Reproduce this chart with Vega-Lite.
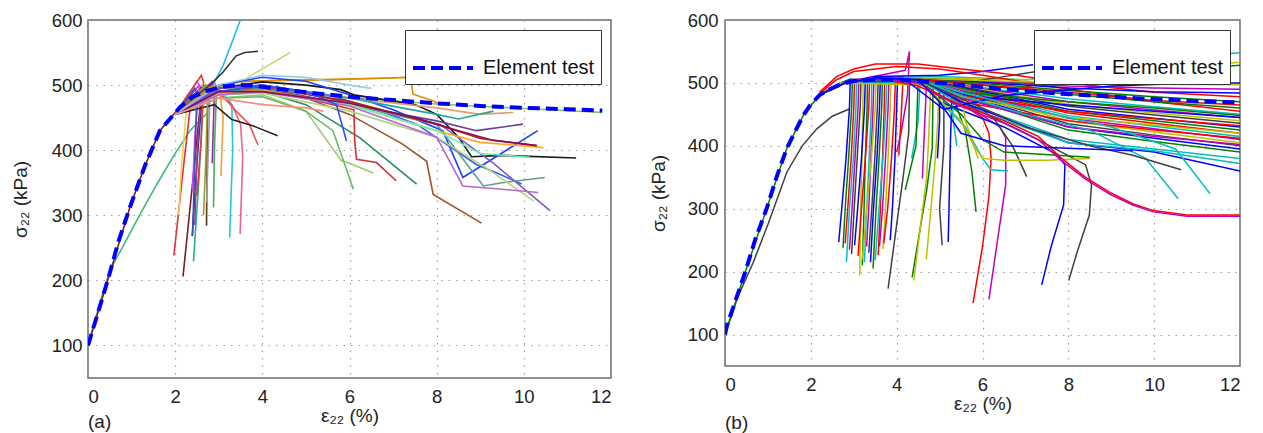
{
"$schema": "https://vega.github.io/schema/vega-lite/v6.json",
"background": "white",
"padding": {"left": 10, "top": 10, "right": 5, "bottom": 0},
"bounds": "flush",
"spacing": 114,
"config": {
  "view": {"stroke": "#6b6b6b", "strokeWidth": 1.5},
  "font": "Liberation Sans",
  "axis": {"domain": false, "ticks": false, "grid": true, "gridColor": "#a0a0a0", "gridDash": [1.5, 6], "gridWidth": 1.2,
    "labelFont": "Liberation Sans", "labelFontSize": 18.5, "labelColor": "#222", "titleFont": "Liberation Sans", "titleFontSize": 19, "titleFontWeight": "normal", "titleColor": "#222"},
  "legend": {"orient": "top-right", "offset": 10, "strokeColor": "#333", "fillColor": "white", "padding": 6, "symbolType": "stroke", "symbolDash": [12, 6], "symbolStrokeWidth": 4, "symbolSize": 3600, "labelFont": "Liberation Sans", "labelFontSize": 20, "labelColor": "#111", "labelOffset": 8, "title": null, "cornerRadius": 0}
},
"datasets": {
"EA": [{"x":0,"y":100},{"x":0.25,"y":155},{"x":0.47,"y":204},{"x":0.7,"y":260},{"x":0.96,"y":312},{"x":1.3,"y":375},{"x":1.65,"y":430},{"x":2.11,"y":466},{"x":2.4,"y":482},{"x":2.72,"y":491},{"x":3.1,"y":498},{"x":3.5,"y":500},{"x":3.8,"y":499},{"x":4.4,"y":494},{"x":4.86,"y":490},{"x":6,"y":482},{"x":7,"y":477},{"x":8,"y":472},{"x":9,"y":468},{"x":10,"y":465},{"x":11,"y":463},{"x":11.8,"y":461}],
"EB": [{"x":0,"y":100},{"x":0.04,"y":113},{"x":0.25,"y":155},{"x":0.47,"y":199},{"x":0.7,"y":250},{"x":0.97,"y":300},{"x":1.2,"y":350},{"x":1.44,"y":396},{"x":1.65,"y":425},{"x":1.83,"y":449},{"x":2.0,"y":466},{"x":2.21,"y":481},{"x":2.5,"y":492},{"x":2.76,"y":499},{"x":3.0,"y":503},{"x":3.5,"y":505},{"x":4.0,"y":505},{"x":4.5,"y":503},{"x":5.0,"y":500},{"x":5.48,"y":497},{"x":6.5,"y":490},{"x":7.81,"y":483},{"x":8.8,"y":479},{"x":9.75,"y":475},{"x":11,"y":471},{"x":12,"y":469}],
"A": [
{"i":"a01","x":0,"y":100},{"i":"a01","x":0.25,"y":160},{"i":"a01","x":0.5,"y":215},{"i":"a01","x":0.8,"y":252},{"i":"a01","x":1.2,"y":302},{"i":"a01","x":1.6,"y":350},{"i":"a01","x":2.0,"y":395},{"i":"a01","x":2.34,"y":430},{"i":"a01","x":2.75,"y":458},
{"i":"a02","x":2,"y":455},{"i":"a02","x":2.3,"y":475},{"i":"a02","x":2.35,"y":468},{"i":"a02","x":2.2,"y":380},{"i":"a02","x":1.97,"y":238},
{"i":"a03","x":0,"y":100},{"i":"a03","x":0.47,"y":204},{"i":"a03","x":0.96,"y":312},{"i":"a03","x":1.3,"y":375},{"i":"a03","x":1.65,"y":430},{"i":"a03","x":2,"y":458},{"i":"a03","x":2.55,"y":492},{"i":"a03","x":2.6,"y":486},{"i":"a03","x":2.4,"y":350},{"i":"a03","x":2.18,"y":206},
{"i":"a04","x":2,"y":455},{"i":"a04","x":2.3,"y":488},{"i":"a04","x":2.28,"y":478},{"i":"a04","x":2.15,"y":380},{"i":"a04","x":2.08,"y":300},
{"i":"a05","x":2,"y":455},{"i":"a05","x":2.6,"y":495},{"i":"a05","x":2.65,"y":488},{"i":"a05","x":2.55,"y":360},{"i":"a05","x":2.42,"y":229},
{"i":"a06","x":2,"y":455},{"i":"a06","x":2.6,"y":496},{"i":"a06","x":2.62,"y":488},{"i":"a06","x":2.5,"y":380},{"i":"a06","x":2.39,"y":268},
{"i":"a07","x":2,"y":455},{"i":"a07","x":2.55,"y":500},{"i":"a07","x":2.6,"y":494},{"i":"a07","x":2.5,"y":390},{"i":"a07","x":2.45,"y":285},
{"i":"a08","x":2,"y":455},{"i":"a08","x":2.7,"y":500},{"i":"a08","x":2.75,"y":494},{"i":"a08","x":2.73,"y":380},{"i":"a08","x":2.72,"y":284},
{"i":"a09","x":2,"y":455},{"i":"a09","x":2.9,"y":505},{"i":"a09","x":2.95,"y":495},{"i":"a09","x":2.9,"y":400},{"i":"a09","x":2.88,"y":312},
{"i":"a10","x":2,"y":455},{"i":"a10","x":2.75,"y":498},{"i":"a10","x":2.8,"y":490},{"i":"a10","x":2.76,"y":400},{"i":"a10","x":2.72,"y":320},
{"i":"a11","x":2,"y":455},{"i":"a11","x":2.8,"y":500},{"i":"a11","x":3.2,"y":480},{"i":"a11","x":3.3,"y":470},{"i":"a11","x":3.32,"y":400},{"i":"a11","x":3.25,"y":266},
{"i":"a12","x":2,"y":455},{"i":"a12","x":2.8,"y":495},{"i":"a12","x":3.3,"y":470},{"i":"a12","x":3.5,"y":440},{"i":"a12","x":3.55,"y":390},{"i":"a12","x":3.49,"y":271},
{"i":"a13","x":2,"y":455},{"i":"a13","x":2.85,"y":505},{"i":"a13","x":2.9,"y":490},{"i":"a13","x":2.85,"y":380},
{"i":"a14","x":2,"y":455},{"i":"a14","x":2.5,"y":506},{"i":"a14","x":2.55,"y":500},{"i":"a14","x":2.45,"y":420},{"i":"a14","x":2.4,"y":340},
{"i":"a15","x":2,"y":455},{"i":"a15","x":3.0,"y":500},{"i":"a15","x":3.1,"y":450},{"i":"a15","x":3.05,"y":360},
{"i":"a16","x":2,"y":455},{"i":"a16","x":3.0,"y":490},{"i":"a16","x":3.4,"y":460},{"i":"a16","x":3.7,"y":440},{"i":"a16","x":3.9,"y":408},
{"i":"a17","x":2,"y":455},{"i":"a17","x":2.9,"y":470},{"i":"a17","x":3.3,"y":447},{"i":"a17","x":3.8,"y":437},{"i":"a17","x":4.35,"y":422},
{"i":"a18","x":2,"y":455},{"i":"a18","x":2.6,"y":515},{"i":"a18","x":2.65,"y":505},{"i":"a18","x":2.6,"y":420},{"i":"a18","x":2.5,"y":330},
{"i":"a19","x":2,"y":455},{"i":"a19","x":2.7,"y":500},{"i":"a19","x":2.75,"y":494},{"i":"a19","x":2.7,"y":380},{"i":"a19","x":2.65,"y":300},
{"i":"a20","x":2,"y":455},{"i":"a20","x":2.45,"y":495},{"i":"a20","x":2.5,"y":488},{"i":"a20","x":2.45,"y":380},{"i":"a20","x":2.4,"y":270},
{"i":"a21","x":2,"y":455},{"i":"a21","x":2.7,"y":495},{"i":"a21","x":2.9,"y":505},{"i":"a21","x":3.1,"y":530},{"i":"a21","x":3.3,"y":565},{"i":"a21","x":3.55,"y":610},
{"i":"a22","x":2,"y":455},{"i":"a22","x":2.8,"y":500},{"i":"a22","x":3.1,"y":520},{"i":"a22","x":3.4,"y":545},{"i":"a22","x":3.6,"y":550},{"i":"a22","x":3.9,"y":552},
{"i":"a23","x":2,"y":455},{"i":"a23","x":3.0,"y":495},{"i":"a23","x":3.5,"y":505},{"i":"a23","x":4.0,"y":525},{"i":"a23","x":4.64,"y":550},
{"i":"a24","x":2,"y":455},{"i":"a24","x":2.8,"y":495},{"i":"a24","x":3.5,"y":505},{"i":"a24","x":4.5,"y":508},{"i":"a24","x":5.6,"y":509},{"i":"a24","x":7,"y":511},{"i":"a24","x":8.3,"y":515},{"i":"a24","x":9.0,"y":520},{"i":"a24","x":9.52,"y":528},{"i":"a24","x":9.84,"y":514},
{"i":"a25","x":2,"y":455},{"i":"a25","x":2.8,"y":497},{"i":"a25","x":3.5,"y":506},{"i":"a25","x":4.5,"y":507},{"i":"a25","x":5.5,"y":508},{"i":"a25","x":7.39,"y":512},{"i":"a25","x":7.46,"y":486},{"i":"a25","x":7.91,"y":476},{"i":"a25","x":8.1,"y":470},
{"i":"a26","x":2,"y":455},{"i":"a26","x":3,"y":496},{"i":"a26","x":4,"y":494},{"i":"a26","x":6,"y":481},{"i":"a26","x":8,"y":471},{"i":"a26","x":10,"y":464},{"i":"a26","x":11.8,"y":458},
{"i":"a27","x":2,"y":455},{"i":"a27","x":3,"y":495},{"i":"a27","x":4,"y":505},{"i":"a27","x":5,"y":500},{"i":"a27","x":5.8,"y":493},{"i":"a27","x":6.1,"y":485},{"i":"a27","x":7.5,"y":470},{"i":"a27","x":8.0,"y":455},{"i":"a27","x":8.5,"y":420},{"i":"a27","x":8.8,"y":390},{"i":"a27","x":9.5,"y":392},{"i":"a27","x":11.2,"y":388},
{"i":"a28","x":2,"y":455},{"i":"a28","x":3,"y":500},{"i":"a28","x":4,"y":512},{"i":"a28","x":5,"y":506},{"i":"a28","x":6,"y":485},{"i":"a28","x":7,"y":462},{"i":"a28","x":7.5,"y":448},{"i":"a28","x":8.14,"y":430},{"i":"a28","x":8.37,"y":394},{"i":"a28","x":8.6,"y":358},{"i":"a28","x":10.32,"y":430},
{"i":"a29","x":2,"y":455},{"i":"a29","x":3,"y":495},{"i":"a29","x":4,"y":500},{"i":"a29","x":5.5,"y":485},{"i":"a29","x":6.5,"y":465},{"i":"a29","x":7.54,"y":440},{"i":"a29","x":8.91,"y":378},{"i":"a29","x":9.45,"y":363},{"i":"a29","x":9.95,"y":348},
{"i":"a30","x":2,"y":455},{"i":"a30","x":3,"y":495},{"i":"a30","x":4,"y":500},{"i":"a30","x":5.5,"y":480},{"i":"a30","x":7,"y":455},{"i":"a30","x":8.07,"y":440},{"i":"a30","x":9.3,"y":380},{"i":"a30","x":10.6,"y":307},
{"i":"a31","x":2,"y":455},{"i":"a31","x":3,"y":490},{"i":"a31","x":4,"y":495},{"i":"a31","x":6,"y":470},{"i":"a31","x":8,"y":445},{"i":"a31","x":8.91,"y":430},{"i":"a31","x":9.98,"y":440},
{"i":"a32","x":2,"y":455},{"i":"a32","x":3,"y":490},{"i":"a32","x":4,"y":492},{"i":"a32","x":5,"y":480},{"i":"a32","x":6,"y":455},{"i":"a32","x":7.2,"y":410},{"i":"a32","x":7.77,"y":383},{"i":"a32","x":7.92,"y":332},{"i":"a32","x":9.03,"y":288},
{"i":"a33","x":2,"y":455},{"i":"a33","x":3,"y":490},{"i":"a33","x":4,"y":490},{"i":"a33","x":5,"y":470},{"i":"a33","x":6.24,"y":419},{"i":"a33","x":7.54,"y":348},
{"i":"a34","x":2,"y":455},{"i":"a34","x":3,"y":490},{"i":"a34","x":4,"y":492},{"i":"a34","x":5,"y":480},{"i":"a34","x":6.1,"y":462},{"i":"a34","x":6.12,"y":414},{"i":"a34","x":6.16,"y":386},{"i":"a34","x":6.62,"y":381},{"i":"a34","x":7.07,"y":353},
{"i":"a35","x":2,"y":455},{"i":"a35","x":3,"y":480},{"i":"a35","x":4,"y":485},{"i":"a35","x":5,"y":460},{"i":"a35","x":5.81,"y":384},{"i":"a35","x":6.0,"y":380},{"i":"a35","x":6.54,"y":365},
{"i":"a36","x":2,"y":455},{"i":"a36","x":3,"y":480},{"i":"a36","x":4,"y":482},{"i":"a36","x":5,"y":460},{"i":"a36","x":5.62,"y":430},{"i":"a36","x":6.09,"y":340},
{"i":"a37","x":2,"y":455},{"i":"a37","x":3,"y":488},{"i":"a37","x":4,"y":490},{"i":"a37","x":6,"y":470},{"i":"a37","x":8,"y":440},{"i":"a37","x":9.07,"y":345},{"i":"a37","x":9.5,"y":350},{"i":"a37","x":10.48,"y":358},
{"i":"a38","x":2,"y":455},{"i":"a38","x":3,"y":485},{"i":"a38","x":4,"y":488},{"i":"a38","x":6,"y":460},{"i":"a38","x":8,"y":420},{"i":"a38","x":9.2,"y":370},{"i":"a38","x":10.22,"y":322},
{"i":"a39","x":2,"y":455},{"i":"a39","x":3,"y":490},{"i":"a39","x":4,"y":495},{"i":"a39","x":6,"y":480},{"i":"a39","x":8,"y":465},{"i":"a39","x":9,"y":455},{"i":"a39","x":9.76,"y":458},
{"i":"a40","x":2,"y":455},{"i":"a40","x":3,"y":490},{"i":"a40","x":4,"y":497},{"i":"a40","x":6,"y":475},{"i":"a40","x":8,"y":440},{"i":"a40","x":9,"y":418},{"i":"a40","x":10.29,"y":407},
{"i":"a41","x":2,"y":455},{"i":"a41","x":3,"y":488},{"i":"a41","x":4,"y":492},{"i":"a41","x":6,"y":470},{"i":"a41","x":8,"y":430},{"i":"a41","x":9,"y":412},{"i":"a41","x":10.45,"y":404},
{"i":"a42","x":2,"y":455},{"i":"a42","x":3,"y":485},{"i":"a42","x":4,"y":490},{"i":"a42","x":6,"y":470},{"i":"a42","x":8,"y":430},{"i":"a42","x":9,"y":395},{"i":"a42","x":10.14,"y":389},
{"i":"a43","x":2,"y":455},{"i":"a43","x":3,"y":490},{"i":"a43","x":4,"y":495},{"i":"a43","x":6,"y":480},{"i":"a43","x":8,"y":455},{"i":"a43","x":8.5,"y":448},{"i":"a43","x":9.3,"y":460},
{"i":"a44","x":2,"y":455},{"i":"a44","x":3,"y":485},{"i":"a44","x":4,"y":490},{"i":"a44","x":6,"y":468},{"i":"a44","x":8,"y":420},{"i":"a44","x":8.6,"y":345},{"i":"a44","x":9.5,"y":340},{"i":"a44","x":10.33,"y":335},
{"i":"a45","x":2,"y":455},{"i":"a45","x":3,"y":490},{"i":"a45","x":4,"y":500},{"i":"a45","x":5,"y":490},{"i":"a45","x":5.7,"y":470},{"i":"a45","x":5.93,"y":414},
{"i":"a46","x":2,"y":455},{"i":"a46","x":3,"y":490},{"i":"a46","x":4,"y":490},{"i":"a46","x":6,"y":472},{"i":"a46","x":7.5,"y":450},{"i":"a46","x":8.5,"y":430},{"i":"a46","x":9.3,"y":415},{"i":"a46","x":10.3,"y":407},
{"i":"a47","x":2,"y":455},{"i":"a47","x":3,"y":500},{"i":"a47","x":4,"y":515},{"i":"a47","x":5,"y":512},{"i":"a47","x":6,"y":500},{"i":"a47","x":6.5,"y":495},
{"i":"a48","x":2,"y":455},{"i":"a48","x":3,"y":480},{"i":"a48","x":4,"y":470},{"i":"a48","x":5,"y":465},{"i":"a48","x":5.4,"y":460}
],
"B": [
{"i":"b00","x":0,"y":100},{"i":"b00","x":0.3,"y":160},{"i":"b00","x":0.66,"y":215},{"i":"b00","x":1.0,"y":275},{"i":"b00","x":1.44,"y":358},{"i":"b00","x":1.8,"y":400},{"i":"b00","x":2.14,"y":427},{"i":"b00","x":2.5,"y":447},{"i":"b00","x":2.91,"y":459},
{"i":"b01","x":2.2,"y":481},{"i":"b01","x":2.7,"y":500},{"i":"b01","x":2.92,"y":506},{"i":"b01","x":2.9,"y":460},{"i":"b01","x":2.82,"y":380},{"i":"b01","x":2.72,"y":300},{"i":"b01","x":2.65,"y":247},
{"i":"b02","x":0,"y":100},{"i":"b02","x":0.47,"y":199},{"i":"b02","x":0.97,"y":300},{"i":"b02","x":1.44,"y":396},{"i":"b02","x":1.83,"y":449},{"i":"b02","x":2.2,"y":481},{"i":"b02","x":2.7,"y":500},{"i":"b02","x":2.97,"y":506},{"i":"b02","x":2.95,"y":460},{"i":"b02","x":2.88,"y":380},{"i":"b02","x":2.8,"y":300},{"i":"b02","x":2.75,"y":238},
{"i":"b03","x":2.2,"y":481},{"i":"b03","x":2.7,"y":500},{"i":"b03","x":3.02,"y":506},{"i":"b03","x":3.0,"y":460},{"i":"b03","x":2.94,"y":380},{"i":"b03","x":2.86,"y":300},{"i":"b03","x":2.8,"y":245},
{"i":"b04","x":2.2,"y":481},{"i":"b04","x":2.7,"y":500},{"i":"b04","x":3.07,"y":506},{"i":"b04","x":3.05,"y":460},{"i":"b04","x":2.99,"y":380},{"i":"b04","x":2.9,"y":300},{"i":"b04","x":2.83,"y":215},
{"i":"b05","x":2.2,"y":481},{"i":"b05","x":2.7,"y":500},{"i":"b05","x":3.12,"y":506},{"i":"b05","x":3.1,"y":460},{"i":"b05","x":3.03,"y":380},{"i":"b05","x":2.96,"y":300},{"i":"b05","x":2.9,"y":235},
{"i":"b06","x":2.2,"y":481},{"i":"b06","x":2.7,"y":500},{"i":"b06","x":3.22,"y":506},{"i":"b06","x":3.21,"y":460},{"i":"b06","x":3.19,"y":380},{"i":"b06","x":3.16,"y":300},{"i":"b06","x":3.14,"y":194},
{"i":"b07","x":2.2,"y":481},{"i":"b07","x":2.7,"y":500},{"i":"b07","x":3.17,"y":506},{"i":"b07","x":3.15,"y":460},{"i":"b07","x":3.08,"y":380},{"i":"b07","x":3.01,"y":300},{"i":"b07","x":2.95,"y":228},
{"i":"b08","x":2.2,"y":481},{"i":"b08","x":2.7,"y":500},{"i":"b08","x":3.27,"y":506},{"i":"b08","x":3.25,"y":460},{"i":"b08","x":3.18,"y":380},{"i":"b08","x":3.09,"y":300},{"i":"b08","x":3.02,"y":242},
{"i":"b09","x":2.2,"y":481},{"i":"b09","x":2.7,"y":500},{"i":"b09","x":3.32,"y":506},{"i":"b09","x":3.31,"y":460},{"i":"b09","x":3.27,"y":380},{"i":"b09","x":3.24,"y":300},{"i":"b09","x":3.2,"y":210},
{"i":"b10","x":2.2,"y":481},{"i":"b10","x":2.7,"y":500},{"i":"b10","x":3.37,"y":506},{"i":"b10","x":3.35,"y":460},{"i":"b10","x":3.27,"y":380},{"i":"b10","x":3.18,"y":300},{"i":"b10","x":3.1,"y":225},
{"i":"b11","x":2.2,"y":481},{"i":"b11","x":2.7,"y":500},{"i":"b11","x":3.42,"y":506},{"i":"b11","x":3.41,"y":460},{"i":"b11","x":3.36,"y":380},{"i":"b11","x":3.3,"y":300},{"i":"b11","x":3.25,"y":215},
{"i":"b12","x":2.2,"y":481},{"i":"b12","x":2.7,"y":500},{"i":"b12","x":3.47,"y":506},{"i":"b12","x":3.45,"y":460},{"i":"b12","x":3.4,"y":380},{"i":"b12","x":3.35,"y":300},{"i":"b12","x":3.3,"y":240},
{"i":"b13","x":2.2,"y":481},{"i":"b13","x":2.7,"y":500},{"i":"b13","x":3.52,"y":506},{"i":"b13","x":3.5,"y":460},{"i":"b13","x":3.41,"y":380},{"i":"b13","x":3.3,"y":300},{"i":"b13","x":3.2,"y":220},
{"i":"b14","x":2.2,"y":481},{"i":"b14","x":2.7,"y":500},{"i":"b14","x":3.57,"y":506},{"i":"b14","x":3.55,"y":460},{"i":"b14","x":3.49,"y":380},{"i":"b14","x":3.42,"y":300},{"i":"b14","x":3.35,"y":230},
{"i":"b15","x":2.2,"y":481},{"i":"b15","x":2.7,"y":500},{"i":"b15","x":3.62,"y":506},{"i":"b15","x":3.6,"y":460},{"i":"b15","x":3.54,"y":380},{"i":"b15","x":3.46,"y":300},{"i":"b15","x":3.39,"y":215},
{"i":"b16","x":2.2,"y":481},{"i":"b16","x":2.7,"y":500},{"i":"b16","x":3.67,"y":506},{"i":"b16","x":3.65,"y":460},{"i":"b16","x":3.59,"y":380},{"i":"b16","x":3.52,"y":300},{"i":"b16","x":3.45,"y":205},
{"i":"b17","x":2.2,"y":481},{"i":"b17","x":2.7,"y":500},{"i":"b17","x":3.72,"y":506},{"i":"b17","x":3.71,"y":460},{"i":"b17","x":3.67,"y":380},{"i":"b17","x":3.62,"y":300},{"i":"b17","x":3.57,"y":226},
{"i":"b18","x":2.2,"y":481},{"i":"b18","x":2.7,"y":500},{"i":"b18","x":3.77,"y":506},{"i":"b18","x":3.75,"y":460},{"i":"b18","x":3.68,"y":380},{"i":"b18","x":3.59,"y":300},{"i":"b18","x":3.5,"y":218},
{"i":"b19","x":2.2,"y":481},{"i":"b19","x":2.7,"y":500},{"i":"b19","x":3.82,"y":506},{"i":"b19","x":3.8,"y":460},{"i":"b19","x":3.74,"y":380},{"i":"b19","x":3.67,"y":300},{"i":"b19","x":3.6,"y":240},
{"i":"b20","x":2.2,"y":481},{"i":"b20","x":2.7,"y":500},{"i":"b20","x":3.87,"y":506},{"i":"b20","x":3.85,"y":460},{"i":"b20","x":3.8,"y":380},{"i":"b20","x":3.74,"y":300},{"i":"b20","x":3.68,"y":236},
{"i":"b21","x":2.2,"y":481},{"i":"b21","x":2.7,"y":500},{"i":"b21","x":3.97,"y":506},{"i":"b21","x":3.95,"y":460},{"i":"b21","x":3.88,"y":380},{"i":"b21","x":3.79,"y":300},{"i":"b21","x":3.7,"y":245},
{"i":"b22","x":2.2,"y":481},{"i":"b22","x":2.7,"y":500},{"i":"b22","x":4.02,"y":506},{"i":"b22","x":4.0,"y":460},{"i":"b22","x":3.96,"y":380},{"i":"b22","x":3.9,"y":300},{"i":"b22","x":3.85,"y":250},
{"i":"b23","x":2.2,"y":481},{"i":"b23","x":2.7,"y":500},{"i":"b23","x":4.3,"y":506},{"i":"b23","x":4.28,"y":420},{"i":"b23","x":4.15,"y":350},{"i":"b23","x":4.04,"y":295},{"i":"b23","x":3.8,"y":173},
{"i":"b24","x":2.2,"y":481},{"i":"b24","x":2.7,"y":500},{"i":"b24","x":4.85,"y":505},{"i":"b24","x":4.83,"y":397},{"i":"b24","x":4.7,"y":330},{"i":"b24","x":4.6,"y":290},{"i":"b24","x":4.36,"y":191},
{"i":"b25","x":2.2,"y":481},{"i":"b25","x":2.7,"y":500},{"i":"b25","x":4.8,"y":505},{"i":"b25","x":4.75,"y":420},{"i":"b25","x":4.7,"y":350},{"i":"b25","x":4.55,"y":270},{"i":"b25","x":4.4,"y":186},
{"i":"b26","x":2.2,"y":481},{"i":"b26","x":2.7,"y":500},{"i":"b26","x":5.0,"y":505},{"i":"b26","x":4.95,"y":430},{"i":"b26","x":4.9,"y":380},{"i":"b26","x":4.8,"y":300},{"i":"b26","x":4.69,"y":220},
{"i":"b27","x":2.2,"y":481},{"i":"b27","x":2.7,"y":500},{"i":"b27","x":5.1,"y":505},{"i":"b27","x":5.1,"y":400},{"i":"b27","x":5.0,"y":300},{"i":"b27","x":5.06,"y":242},
{"i":"b28","x":2.2,"y":481},{"i":"b28","x":2.7,"y":500},{"i":"b28","x":5.3,"y":505},{"i":"b28","x":5.25,"y":400},{"i":"b28","x":5.22,"y":300},{"i":"b28","x":5.2,"y":247},
{"i":"b29","x":2.2,"y":481},{"i":"b29","x":2.7,"y":500},{"i":"b29","x":4.8,"y":505},{"i":"b29","x":5.3,"y":480},{"i":"b29","x":5.6,"y":424},{"i":"b29","x":5.75,"y":360},{"i":"b29","x":5.85,"y":295},
{"i":"b30","x":2.2,"y":481},{"i":"b30","x":2.7,"y":500},{"i":"b30","x":4.5,"y":506},{"i":"b30","x":5.2,"y":480},{"i":"b30","x":6.0,"y":445},{"i":"b30","x":6.15,"y":420},{"i":"b30","x":6.2,"y":380},{"i":"b30","x":6.15,"y":320},{"i":"b30","x":6.0,"y":240},{"i":"b30","x":5.78,"y":150},
{"i":"b31","x":2.2,"y":481},{"i":"b31","x":2.7,"y":500},{"i":"b31","x":4.5,"y":506},{"i":"b31","x":5.3,"y":480},{"i":"b31","x":6.4,"y":430},{"i":"b31","x":6.54,"y":413},{"i":"b31","x":6.54,"y":338},{"i":"b31","x":6.35,"y":250},{"i":"b31","x":6.15,"y":156},
{"i":"b32","x":2.2,"y":481},{"i":"b32","x":2.7,"y":500},{"i":"b32","x":4.5,"y":506},{"i":"b32","x":5.0,"y":470},{"i":"b32","x":6.5,"y":430},{"i":"b32","x":7.75,"y":386},{"i":"b32","x":7.92,"y":370},{"i":"b32","x":7.89,"y":306},{"i":"b32","x":7.6,"y":240},{"i":"b32","x":7.38,"y":179},
{"i":"b33","x":2.2,"y":481},{"i":"b33","x":2.7,"y":500},{"i":"b33","x":4.5,"y":506},{"i":"b33","x":5.5,"y":470},{"i":"b33","x":7.0,"y":420},{"i":"b33","x":8.4,"y":370},{"i":"b33","x":8.54,"y":338},{"i":"b33","x":8.49,"y":290},{"i":"b33","x":8.2,"y":230},{"i":"b33","x":8.01,"y":186},
{"i":"b34","x":2.2,"y":481},{"i":"b34","x":2.7,"y":500},{"i":"b34","x":4.55,"y":506},{"i":"b34","x":4.5,"y":440},{"i":"b34","x":4.4,"y":400},{"i":"b34","x":4.35,"y":380},
{"i":"b35","x":2.2,"y":481},{"i":"b35","x":2.7,"y":500},{"i":"b35","x":4.2,"y":520},{"i":"b35","x":4.3,"y":550},{"i":"b35","x":4.25,"y":480},{"i":"b35","x":4.1,"y":420},{"i":"b35","x":4.0,"y":390},
{"i":"b36","x":2.2,"y":481},{"i":"b36","x":2.7,"y":500},{"i":"b36","x":5.0,"y":505},{"i":"b36","x":5.0,"y":440},{"i":"b36","x":4.95,"y":380},
{"i":"b37","x":2.2,"y":481},{"i":"b37","x":2.7,"y":500},{"i":"b37","x":4.5,"y":506},{"i":"b37","x":4.45,"y":400},{"i":"b37","x":4.2,"y":330},
{"i":"b38","x":2.2,"y":481},{"i":"b38","x":2.7,"y":500},{"i":"b38","x":4.5,"y":506},{"i":"b38","x":5.8,"y":470},{"i":"b38","x":6.3,"y":440},{"i":"b38","x":6.7,"y":400},{"i":"b38","x":7.03,"y":351},
{"i":"b39","x":2.2,"y":481},{"i":"b39","x":2.7,"y":500},{"i":"b39","x":4.5,"y":506},{"i":"b39","x":5.6,"y":430},{"i":"b39","x":6.0,"y":380},{"i":"b39","x":6.2,"y":362},{"i":"b39","x":6.6,"y":360},
{"i":"b40","x":2.2,"y":481},{"i":"b40","x":2.7,"y":500},{"i":"b40","x":4.5,"y":506},{"i":"b40","x":5.5,"y":440},{"i":"b40","x":5.8,"y":400},{"i":"b40","x":6.0,"y":380},{"i":"b40","x":6.5,"y":377},{"i":"b40","x":7.5,"y":377},{"i":"b40","x":8.5,"y":380},
{"i":"b41","x":2.2,"y":481},{"i":"b41","x":2.7,"y":500},{"i":"b41","x":4.5,"y":506},{"i":"b41","x":5.5,"y":450},{"i":"b41","x":6.0,"y":410},{"i":"b41","x":6.5,"y":390},{"i":"b41","x":8.5,"y":382},
{"i":"b42","x":2.2,"y":481},{"i":"b42","x":2.7,"y":500},{"i":"b42","x":4.7,"y":506},{"i":"b42","x":4.65,"y":430},{"i":"b42","x":4.6,"y":348},
{"i":"b43","x":2.2,"y":481},{"i":"b43","x":2.7,"y":500},{"i":"b43","x":4.15,"y":510},{"i":"b43","x":4.1,"y":440},{"i":"b43","x":4.05,"y":385},
{"i":"b44","x":2.2,"y":481},{"i":"b44","x":2.7,"y":500},{"i":"b44","x":5.35,"y":500},{"i":"b44","x":5.3,"y":450},{"i":"b44","x":5.4,"y":400},
{"i":"b45","x":2.2,"y":481},{"i":"b45","x":2.7,"y":500},{"i":"b45","x":5.5,"y":495},{"i":"b45","x":5.6,"y":440},{"i":"b45","x":5.9,"y":380},
{"i":"b46","x":2.2,"y":481},{"i":"b46","x":2.8,"y":500},{"i":"b46","x":3.5,"y":508},{"i":"b46","x":5,"y":510},{"i":"b46","x":7,"y":505},{"i":"b46","x":8.5,"y":512},{"i":"b46","x":10,"y":530},{"i":"b46","x":11.5,"y":545},{"i":"b46","x":12,"y":548},
{"i":"b47","x":2.2,"y":481},{"i":"b47","x":2.8,"y":500},{"i":"b47","x":3.5,"y":508},{"i":"b47","x":5,"y":508},{"i":"b47","x":7,"y":505},{"i":"b47","x":9,"y":512},{"i":"b47","x":10.5,"y":525},{"i":"b47","x":12,"y":533},
{"i":"b48","x":2.2,"y":481},{"i":"b48","x":2.8,"y":500},{"i":"b48","x":3.5,"y":508},{"i":"b48","x":5,"y":506},{"i":"b48","x":7,"y":500},{"i":"b48","x":9,"y":510},{"i":"b48","x":10.5,"y":520},{"i":"b48","x":12,"y":528},
{"i":"b49","x":2.2,"y":481},{"i":"b49","x":2.8,"y":500},{"i":"b49","x":3.5,"y":510},{"i":"b49","x":5.0,"y":512},{"i":"b49","x":6.0,"y":518},{"i":"b49","x":7.18,"y":529},
{"i":"b50","x":2.2,"y":481},{"i":"b50","x":2.8,"y":500},{"i":"b50","x":3.5,"y":508},{"i":"b50","x":5.5,"y":500},{"i":"b50","x":6.5,"y":510},{"i":"b50","x":7.81,"y":524},
{"i":"b51","x":2.2,"y":481},{"i":"b51","x":2.8,"y":500},{"i":"b51","x":3.5,"y":508},{"i":"b51","x":4.5,"y":495},{"i":"b51","x":5.3,"y":470},{"i":"b51","x":6.5,"y":485},{"i":"b51","x":8.0,"y":510},{"i":"b51","x":8.86,"y":526},
{"i":"b52","x":2.2,"y":485},{"i":"b52","x":2.6,"y":510},{"i":"b52","x":3.0,"y":522},{"i":"b52","x":3.5,"y":530},{"i":"b52","x":4.5,"y":530},{"i":"b52","x":5.5,"y":522},{"i":"b52","x":6.5,"y":515},{"i":"b52","x":8,"y":500},{"i":"b52","x":10,"y":485},{"i":"b52","x":12,"y":478},
{"i":"b53","x":2.2,"y":483},{"i":"b53","x":2.6,"y":505},{"i":"b53","x":3.0,"y":518},{"i":"b53","x":4.0,"y":526},{"i":"b53","x":5.0,"y":522},{"i":"b53","x":6.0,"y":512},{"i":"b53","x":8,"y":490},{"i":"b53","x":10,"y":470},{"i":"b53","x":12,"y":455},
{"i":"b54","x":2.2,"y":481},{"i":"b54","x":2.8,"y":500},{"i":"b54","x":3.5,"y":508},{"i":"b54","x":5,"y":505},{"i":"b54","x":8,"y":495},{"i":"b54","x":10,"y":492},{"i":"b54","x":12,"y":490},
{"i":"b55","x":2.2,"y":481},{"i":"b55","x":2.8,"y":500},{"i":"b55","x":3.5,"y":508},{"i":"b55","x":5,"y":505},{"i":"b55","x":8,"y":492},{"i":"b55","x":10,"y":486},{"i":"b55","x":12,"y":484},
{"i":"b56","x":2.2,"y":481},{"i":"b56","x":2.8,"y":500},{"i":"b56","x":3.5,"y":508},{"i":"b56","x":5,"y":506},{"i":"b56","x":8,"y":500},{"i":"b56","x":10,"y":498},{"i":"b56","x":12,"y":497},
{"i":"b57","x":2.2,"y":481},{"i":"b57","x":2.8,"y":500},{"i":"b57","x":3.5,"y":508},{"i":"b57","x":4.5,"y":506},{"i":"b57","x":5.5,"y":500},{"i":"b57","x":8,"y":482},{"i":"b57","x":10,"y":470},{"i":"b57","x":12,"y":460},
{"i":"b58","x":2.2,"y":481},{"i":"b58","x":2.8,"y":500},{"i":"b58","x":3.5,"y":508},{"i":"b58","x":4.5,"y":506},{"i":"b58","x":5.5,"y":497},{"i":"b58","x":8,"y":475},{"i":"b58","x":10,"y":462},{"i":"b58","x":12,"y":450},
{"i":"b59","x":2.2,"y":481},{"i":"b59","x":2.8,"y":500},{"i":"b59","x":3.5,"y":508},{"i":"b59","x":4.5,"y":506},{"i":"b59","x":5.5,"y":496},{"i":"b59","x":8,"y":470},{"i":"b59","x":10,"y":457},{"i":"b59","x":12,"y":445},
{"i":"b60","x":2.2,"y":481},{"i":"b60","x":2.8,"y":500},{"i":"b60","x":3.5,"y":508},{"i":"b60","x":4.5,"y":506},{"i":"b60","x":5.5,"y":495},{"i":"b60","x":8,"y":466},{"i":"b60","x":10,"y":452},{"i":"b60","x":12,"y":440},
{"i":"b61","x":2.2,"y":481},{"i":"b61","x":2.8,"y":500},{"i":"b61","x":3.5,"y":508},{"i":"b61","x":4.5,"y":506},{"i":"b61","x":5.5,"y":494},{"i":"b61","x":8,"y":463},{"i":"b61","x":10,"y":449},{"i":"b61","x":12,"y":436},
{"i":"b62","x":2.2,"y":481},{"i":"b62","x":2.8,"y":500},{"i":"b62","x":3.5,"y":508},{"i":"b62","x":4.5,"y":506},{"i":"b62","x":5.5,"y":493},{"i":"b62","x":8,"y":458},{"i":"b62","x":10,"y":444},{"i":"b62","x":12,"y":430},
{"i":"b63","x":2.2,"y":481},{"i":"b63","x":2.8,"y":500},{"i":"b63","x":3.5,"y":508},{"i":"b63","x":4.5,"y":506},{"i":"b63","x":5.5,"y":492},{"i":"b63","x":8,"y":455},{"i":"b63","x":10,"y":440},{"i":"b63","x":12,"y":425},
{"i":"b64","x":2.2,"y":481},{"i":"b64","x":2.8,"y":500},{"i":"b64","x":3.5,"y":508},{"i":"b64","x":4.5,"y":506},{"i":"b64","x":5.5,"y":490},{"i":"b64","x":8,"y":452},{"i":"b64","x":10,"y":436},{"i":"b64","x":12,"y":420},
{"i":"b65","x":2.2,"y":481},{"i":"b65","x":2.8,"y":500},{"i":"b65","x":3.5,"y":508},{"i":"b65","x":4.5,"y":506},{"i":"b65","x":5.5,"y":489},{"i":"b65","x":8,"y":448},{"i":"b65","x":10,"y":431},{"i":"b65","x":12,"y":415},
{"i":"b66","x":2.2,"y":481},{"i":"b66","x":2.8,"y":500},{"i":"b66","x":3.5,"y":508},{"i":"b66","x":4.5,"y":506},{"i":"b66","x":5.5,"y":488},{"i":"b66","x":8,"y":444},{"i":"b66","x":10,"y":427},{"i":"b66","x":12,"y":410},
{"i":"b67","x":2.2,"y":481},{"i":"b67","x":2.8,"y":500},{"i":"b67","x":3.5,"y":508},{"i":"b67","x":4.5,"y":506},{"i":"b67","x":5.5,"y":486},{"i":"b67","x":8,"y":440},{"i":"b67","x":10,"y":422},{"i":"b67","x":12,"y":405},
{"i":"b68","x":2.2,"y":481},{"i":"b68","x":2.8,"y":500},{"i":"b68","x":3.5,"y":508},{"i":"b68","x":4.5,"y":506},{"i":"b68","x":5.5,"y":485},{"i":"b68","x":8,"y":435},{"i":"b68","x":10,"y":417},{"i":"b68","x":12,"y":400},
{"i":"b69","x":2.2,"y":481},{"i":"b69","x":2.8,"y":500},{"i":"b69","x":3.5,"y":508},{"i":"b69","x":4.5,"y":506},{"i":"b69","x":5.5,"y":483},{"i":"b69","x":8,"y":430},{"i":"b69","x":10,"y":412},{"i":"b69","x":12,"y":395},
{"i":"b70","x":2.2,"y":481},{"i":"b70","x":2.8,"y":500},{"i":"b70","x":3.5,"y":508},{"i":"b70","x":4.5,"y":506},{"i":"b70","x":5.5,"y":480},{"i":"b70","x":8,"y":425},{"i":"b70","x":10,"y":407},{"i":"b70","x":12,"y":390},
{"i":"b71","x":2.2,"y":481},{"i":"b71","x":2.8,"y":500},{"i":"b71","x":3.5,"y":508},{"i":"b71","x":4.5,"y":506},{"i":"b71","x":5.5,"y":470},{"i":"b71","x":8,"y":440},{"i":"b71","x":10,"y":425},{"i":"b71","x":12,"y":412},
{"i":"b72","x":2.2,"y":481},{"i":"b72","x":2.8,"y":500},{"i":"b72","x":3.5,"y":508},{"i":"b72","x":4.5,"y":506},{"i":"b72","x":5.5,"y":485},{"i":"b72","x":8,"y":470},{"i":"b72","x":10,"y":460},{"i":"b72","x":12,"y":448},
{"i":"b73","x":2.2,"y":481},{"i":"b73","x":2.8,"y":500},{"i":"b73","x":3.5,"y":508},{"i":"b73","x":4.5,"y":506},{"i":"b73","x":5.5,"y":480},{"i":"b73","x":8,"y":465},{"i":"b73","x":10,"y":455},{"i":"b73","x":12,"y":445},
{"i":"b74","x":2.2,"y":481},{"i":"b74","x":2.8,"y":500},{"i":"b74","x":3.5,"y":508},{"i":"b74","x":4.5,"y":506},{"i":"b74","x":5.5,"y":480},{"i":"b74","x":8,"y":455},{"i":"b74","x":10,"y":443},{"i":"b74","x":12,"y":432},
{"i":"b75","x":2.2,"y":481},{"i":"b75","x":2.8,"y":500},{"i":"b75","x":3.5,"y":508},{"i":"b75","x":4.5,"y":506},{"i":"b75","x":5.5,"y":478},{"i":"b75","x":8,"y":445},{"i":"b75","x":10,"y":433},{"i":"b75","x":12,"y":420},
{"i":"b76","x":2.2,"y":481},{"i":"b76","x":2.8,"y":500},{"i":"b76","x":3.5,"y":508},{"i":"b76","x":4.5,"y":506},{"i":"b76","x":5.5,"y":476},{"i":"b76","x":8,"y":430},{"i":"b76","x":10,"y":415},{"i":"b76","x":12,"y":402},
{"i":"b77","x":2.2,"y":481},{"i":"b77","x":2.8,"y":500},{"i":"b77","x":3.5,"y":508},{"i":"b77","x":4.5,"y":506},{"i":"b77","x":5.5,"y":470},{"i":"b77","x":8,"y":410},{"i":"b77","x":10,"y":395},{"i":"b77","x":12,"y":380},
{"i":"b78","x":2.2,"y":481},{"i":"b78","x":2.8,"y":500},{"i":"b78","x":3.5,"y":508},{"i":"b78","x":4.5,"y":506},{"i":"b78","x":5.5,"y":470},{"i":"b78","x":8,"y":405},{"i":"b78","x":10,"y":390},{"i":"b78","x":12,"y":360},
{"i":"b79","x":2.2,"y":481},{"i":"b79","x":2.8,"y":500},{"i":"b79","x":3.5,"y":508},{"i":"b79","x":4.5,"y":506},{"i":"b79","x":5.5,"y":502},{"i":"b79","x":8,"y":488},{"i":"b79","x":10,"y":478},{"i":"b79","x":12,"y":470},
{"i":"b80","x":2.2,"y":481},{"i":"b80","x":2.8,"y":500},{"i":"b80","x":3.5,"y":508},{"i":"b80","x":4.5,"y":506},{"i":"b80","x":5.5,"y":500},{"i":"b80","x":8,"y":485},{"i":"b80","x":10,"y":472},{"i":"b80","x":12,"y":465},
{"i":"b81","x":2.2,"y":481},{"i":"b81","x":2.8,"y":500},{"i":"b81","x":3.5,"y":508},{"i":"b81","x":4.5,"y":506},{"i":"b81","x":5.5,"y":465},{"i":"b81","x":8,"y":405},{"i":"b81","x":10,"y":392},{"i":"b81","x":12,"y":372},
{"i":"b82","x":2.2,"y":481},{"i":"b82","x":2.8,"y":500},{"i":"b82","x":3.5,"y":508},{"i":"b82","x":4.2,"y":505},{"i":"b82","x":5.1,"y":458},{"i":"b82","x":6.5,"y":480},{"i":"b82","x":9,"y":495},{"i":"b82","x":11,"y":500},{"i":"b82","x":12,"y":500},
{"i":"b83","x":2.2,"y":481},{"i":"b83","x":2.8,"y":500},{"i":"b83","x":3.5,"y":508},{"i":"b83","x":4.5,"y":500},{"i":"b83","x":5.3,"y":470},{"i":"b83","x":6.5,"y":440},{"i":"b83","x":7.3,"y":415},{"i":"b83","x":7.81,"y":382},{"i":"b83","x":8.4,"y":350},{"i":"b83","x":8.97,"y":326},{"i":"b83","x":9.5,"y":308},{"i":"b83","x":9.98,"y":297},{"i":"b83","x":10.76,"y":290},{"i":"b83","x":12,"y":290},
{"i":"b84","x":2.2,"y":481},{"i":"b84","x":2.8,"y":500},{"i":"b84","x":3.5,"y":508},{"i":"b84","x":4.5,"y":500},{"i":"b84","x":5.3,"y":468},{"i":"b84","x":6.5,"y":436},{"i":"b84","x":7.3,"y":410},{"i":"b84","x":7.81,"y":378},{"i":"b84","x":8.4,"y":347},{"i":"b84","x":8.97,"y":323},{"i":"b84","x":9.5,"y":306},{"i":"b84","x":9.98,"y":295},{"i":"b84","x":10.76,"y":288},{"i":"b84","x":12,"y":288},
{"i":"b85","x":2.2,"y":481},{"i":"b85","x":2.8,"y":500},{"i":"b85","x":3.5,"y":508},{"i":"b85","x":4.5,"y":505},{"i":"b85","x":5.5,"y":480},{"i":"b85","x":7,"y":450},{"i":"b85","x":8.5,"y":425},{"i":"b85","x":9.8,"y":380},{"i":"b85","x":10.56,"y":316},
{"i":"b86","x":2.2,"y":481},{"i":"b86","x":2.8,"y":500},{"i":"b86","x":3.5,"y":508},{"i":"b86","x":4.5,"y":505},{"i":"b86","x":5.5,"y":485},{"i":"b86","x":7,"y":460},{"i":"b86","x":9,"y":430},{"i":"b86","x":10.5,"y":395},{"i":"b86","x":11.3,"y":324},
{"i":"b87","x":2.2,"y":481},{"i":"b87","x":2.8,"y":500},{"i":"b87","x":3.5,"y":508},{"i":"b87","x":4.5,"y":505},{"i":"b87","x":5.5,"y":475},{"i":"b87","x":7.0,"y":430},{"i":"b87","x":8.5,"y":400},{"i":"b87","x":9.5,"y":385},{"i":"b87","x":10.63,"y":362},
{"i":"b88","x":2.2,"y":481},{"i":"b88","x":2.8,"y":500},{"i":"b88","x":3.5,"y":508},{"i":"b88","x":4.5,"y":505},{"i":"b88","x":5,"y":470},{"i":"b88","x":5.5,"y":420},{"i":"b88","x":6.5,"y":400},{"i":"b88","x":9.5,"y":392}
]
},
"hconcat": [
{
  "width": 523, "height": 358,
  "title": {"text": "(a)", "orient": "bottom", "anchor": "start", "frame": "group", "offset": -13, "fontSize": 19, "fontWeight": "normal", "color": "#222", "font": "Liberation Sans"},
  "layer": [
    {"data": {"name": "A"}, "mark": {"type": "line", "strokeWidth": 1.6, "clip": true},
     "encoding": {
       "x": {"field": "x", "type": "quantitative", "scale": {"domain": [0, 12], "nice": false}, "axis": {"values": [0,2,4,6,8,10,12], "title": "ε₂₂ (%)", "labelPadding": 9, "titlePadding": 1}},
       "y": {"field": "y", "type": "quantitative", "scale": {"domain": [50, 600], "nice": false}, "axis": {"values": [100,200,300,400,500,600], "title": "σ₂₂ (kPa)", "labelPadding": 6, "titlePadding": 21}},
       "color": {"field": "i", "type": "nominal", "legend": null, "scale": {"range": ["#3dbb7a","#d9363e","#7a1f1f","#f2d24b","#27b38a","#23238e","#8e3fa8","#5b3a1a","#4caf50","#9e9e9e","#26c6da","#f06292","#9c27b0","#e040fb","#f5a040","#ef5350","#222222","#e53935","#9e9d24","#3f51b5","#29b6f6","#333333","#c5d86d","#c9a227","#e68a00","#8bc34a","#1a1a1a","#1e40ff","#3d5afe","#7e57c2","#6a3d9a","#a0522d","#2e8b57","#d32f2f","#9ccc65","#66bb6a","#5f9e8f","#aed581","#e0a070","#b71c1c","#ffa726","#69f0ae","#26a69a","#ba68c8","#304ffe","#880e4f","#90caf9","#ff8a80"]}},
       "order": {"value": null}
     }},
    {"data": {"name": "EA"}, "mark": {"type": "line", "strokeWidth": 4, "strokeDash": [12, 6], "clip": true},
     "encoding": {
       "x": {"field": "x", "type": "quantitative"},
       "y": {"field": "y", "type": "quantitative"},
       "color": {"datum": "Element test", "type": "nominal", "scale": {"domain": ["Element test"], "range": ["#0000ff"]}, "legend": {"orient": "top-right"}},
       "order": {"value": null}
     }}
  ],
  "resolve": {"scale": {"color": "independent"}, "legend": {"color": "independent"}}
},
{
  "width": 515, "height": 346,
  "title": {"text": "(b)", "orient": "bottom", "anchor": "start", "frame": "group", "offset": 0, "fontSize": 19, "fontWeight": "normal", "color": "#222", "font": "Liberation Sans"},
  "layer": [
    {"data": {"name": "B"}, "mark": {"type": "line", "strokeWidth": 1.5, "clip": true},
     "encoding": {
       "x": {"field": "x", "type": "quantitative", "scale": {"domain": [0, 12], "nice": false}, "axis": {"values": [0,2,4,6,8,10,12], "title": "ε₂₂ (%)", "labelPadding": 9, "titlePadding": 1}},
       "y": {"field": "y", "type": "quantitative", "scale": {"domain": [50, 600], "nice": false}, "axis": {"values": [100,200,300,400,500,600], "title": "σ₂₂ (kPa)", "labelPadding": 7, "titlePadding": 19}},
       "color": {"field": "i", "type": "nominal", "legend": null, "scale": {"range": ["#404040",
         "#0000ff","#008000","#ff0000","#00bfbf","#bf00bf","#bfbf00","#404040","#0000ff","#008000","#ff0000","#00bfbf","#bf00bf","#bfbf00","#404040","#0000ff","#008000","#ff0000","#00bfbf","#bf00bf","#bfbf00","#ff0000","#0000ff","#404040","#008000","#bfbf00","#bfbf00","#404040","#0000ff","#008000","#ff0000","#bf00bf","#0000ff","#404040","#00bfbf","#bf00bf","#0000ff","#008000","#404040","#00bfbf","#bfbf00","#008000","#bf00bf","#ff0000","#00bfbf","#bfbf00",
         "#00bfbf","#bfbf00","#008000","#0000ff","#404040","#ff0000","#ff0000","#ff0000","#bf00bf","#0000ff","#bfbf00","#008000","#00bfbf","#bf00bf","#bfbf00","#404040","#0000ff","#008000","#ff0000","#00bfbf","#bf00bf","#bfbf00","#404040","#0000ff","#008000","#ff0000","#008000","#0000ff","#ff0000","#bfbf00","#bf00bf","#00bfbf","#0000ff","#008000","#ff0000","#00bfbf","#0000ff","#ff0000","#bf00bf","#00bfbf","#00bfbf","#404040","#0000ff"]}},
       "order": {"value": null}
     }},
    {"data": {"name": "EB"}, "mark": {"type": "line", "strokeWidth": 4, "strokeDash": [12, 6], "clip": true},
     "encoding": {
       "x": {"field": "x", "type": "quantitative"},
       "y": {"field": "y", "type": "quantitative"},
       "color": {"datum": "Element test", "type": "nominal", "scale": {"domain": ["Element test"], "range": ["#0000ff"]}, "legend": {"orient": "top-right"}},
       "order": {"value": null}
     }}
  ],
  "resolve": {"scale": {"color": "independent"}, "legend": {"color": "independent"}}
}
]
}
